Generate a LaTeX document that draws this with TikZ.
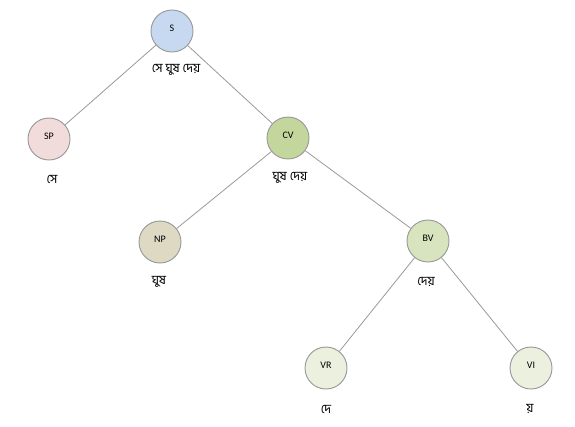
\documentclass[tikz,border=0pt]{standalone}
\usepackage{fontspec}
\setmainfont{Carlito}
\newfontfamily\bnfont[Script=Bengali]{Hind Siliguri}
\begin{document}
\begin{tikzpicture}[x=0.75pt,y=-0.75pt,
  tnode/.style={circle,draw=black!40,line width=0.7pt,minimum size=31.5pt,inner sep=0pt,
    font=\fontsize{7.5}{8}\selectfont,text depth=4.5pt},
  lbl/.style={font=\bnfont\fontsize{9.5}{10}\selectfont,inner sep=0pt},
  edge/.style={draw=black!40,line width=0.6pt}]
\useasboundingbox (0,0) rectangle (575,426);
\definecolor{cS}{HTML}{C6D9F1}
\definecolor{cSP}{HTML}{F2DCDB}
\definecolor{cCV}{HTML}{C3D69B}
\definecolor{cNP}{HTML}{DDD9C3}
\definecolor{cBV}{HTML}{D7E4BD}
\definecolor{cVR}{HTML}{EBF1DE}
\node[tnode,fill=cS] (S) at (172,31) {S};
\node[tnode,fill=cSP] (SP) at (49,139) {SP};
\node[tnode,fill=cCV] (CV) at (288,138) {CV};
\node[tnode,fill=cNP] (NP) at (160,242) {NP};
\node[tnode,fill=cBV] (BV) at (428,241) {BV};
\node[tnode,fill=cVR] (VR) at (326,368) {VR};
\node[tnode,fill=cVR] (VI) at (531,368) {VI};
\node[lbl] (lS) at (176,70) {সে ঘুষ দেয়};
\node[lbl] (lSP) at (52,179) {সে};
\node[lbl] (lCV) at (290,178) {ঘুষ দেয়};
\node[lbl] (lNP) at (159,282) {ঘুষ};
\node[lbl] (lBV) at (426,282) {দেয়};
\node[lbl] (lVR) at (326,409) {দে};
\node[lbl] (lVI) at (530,409) {য়};
\draw[edge] (S) -- (SP);
\draw[edge] (S) -- (CV);
\draw[edge] (CV) -- (NP);
\draw[edge] (CV) -- (BV);
\draw[edge] (BV) -- (VR);
\draw[edge] (BV) -- (VI);
\end{tikzpicture}
\end{document}
